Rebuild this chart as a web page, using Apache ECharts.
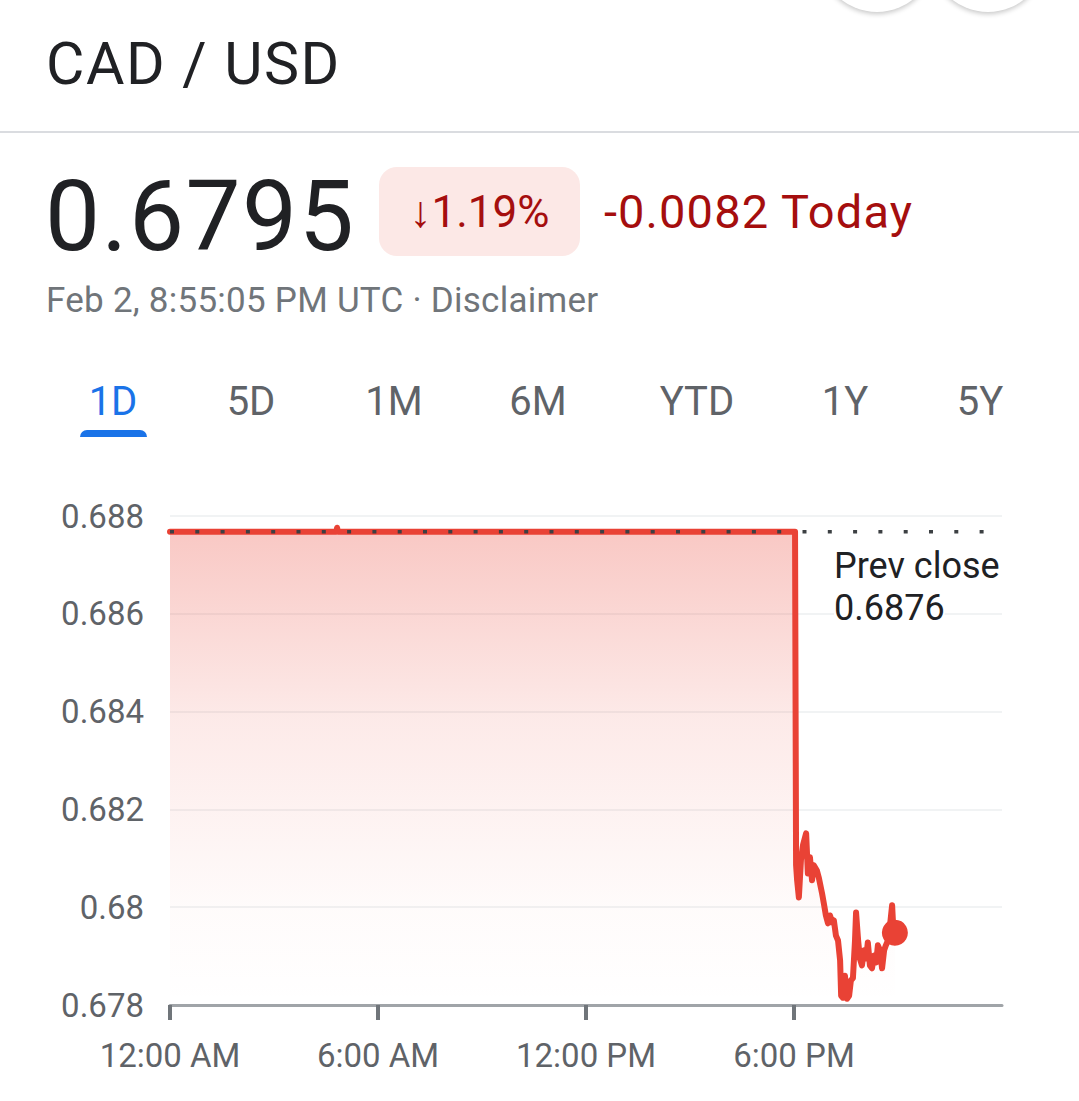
<!DOCTYPE html>
<html>
<head>
<meta charset="utf-8">
<script src="https://cdn.jsdelivr.net/npm/echarts@6/dist/echarts.min.js"></script>
<style>
  html, body { margin:0; padding:0; background:#fff; width:1079px; height:1101px; overflow:hidden; font-family: Roboto, "Noto Sans", sans-serif; }
  #chart { position:absolute; left:0; top:0; width:1079px; height:1101px; }
  .abs { position:absolute; line-height:1; white-space:nowrap; z-index:2; }
  .circ { position:absolute; width:116px; height:116px; border-radius:50%; background:#fff; box-shadow:0 2px 5px rgba(0,0,0,0.22); z-index:2; }
  .tab { position:absolute; top:382px; font-size:40px; line-height:1; color:#5f6368; transform:translateX(-50%); z-index:2; }
</style>
</head>
<body>
<div id="chart"></div>
<div class="circ" style="left:819px; top:-104px;"></div>
<div class="circ" style="left:930px; top:-104px;"></div>
<div class="abs" id="pair" style="left:46px; top:34px; font-size:59px; color:#202124; letter-spacing:1.5px;"></div>
<div class="abs" style="left:0; top:131px; width:1079px; height:2px; background:#dadce0;"></div>
<div class="abs" id="price" style="left:45px; top:168px; font-size:98px; color:#202124; letter-spacing:1.5px;"></div>
<div class="abs" id="badge" style="left:379px; top:167px; width:201px; height:89px; border-radius:18px; background:#fce8e6; color:#a50e0e; font-size:44px; display:flex; align-items:center; justify-content:center; line-height:1;"></div>
<div class="abs" id="change" style="left:604px; top:188px; font-size:47px; color:#a50e0e; letter-spacing:1.1px;"></div>
<div class="abs" id="stamp" style="left:46px; top:283px; font-size:35px; color:#70757a; letter-spacing:0.25px;"></div>
<div id="tabs"></div>
<div class="abs" style="left:80px; top:430px; width:67px; height:7px; border-radius:7px 7px 0 0; background:#1a73e8;"></div>
<script>
// ---- data ----
const pairName = 'CAD / USD';
const lastPrice = '0.6795';
const changePct = '\u21931.19%';
const changeAbs = '-0.0082 Today';
const stampText = 'Feb 2, 8:55:05 PM UTC \u00b7 Disclaimer';
const tabLabels = ['1D', '5D', '1M', '6M', 'YTD', '1Y', '5Y'];
const prevCloseText = '0.6876';
const prevCloseLevel = 0.68768;
const prevCloseSpan = [0, 23.5];

// time in hours (UTC) and rate
const times = [0, 4.80, 4.82, 4.84, 18.03, 18.06, 18.09, 18.14, 18.20, 18.26, 18.35, 18.40, 18.46, 18.52, 18.57, 18.66, 18.72, 18.81, 18.87, 18.92, 18.98, 19.04, 19.10, 19.15, 19.21, 19.27, 19.33, 19.36, 19.41, 19.47, 19.53, 19.59, 19.64, 19.70, 19.76, 19.79, 19.85, 19.90, 19.96, 20.02, 20.08, 20.13, 20.19, 20.25, 20.31, 20.37, 20.42, 20.48, 20.54, 20.60, 20.65, 20.71, 20.77, 20.83, 20.86, 20.91];
const rates = [0.68768, 0.68768, 0.68776, 0.68768, 0.68768, 0.68086, 0.68055, 0.68020, 0.68096, 0.68127, 0.68151, 0.68069, 0.68102, 0.68055, 0.68086, 0.68075, 0.68059, 0.68028, 0.68004, 0.67983, 0.67967, 0.67983, 0.67969, 0.67973, 0.67942, 0.67932, 0.67891, 0.67819, 0.67815, 0.67860, 0.67813, 0.67819, 0.67850, 0.67855, 0.67932, 0.67989, 0.67932, 0.67895, 0.67881, 0.67912, 0.67895, 0.67928, 0.67881, 0.67875, 0.67901, 0.67887, 0.67922, 0.67912, 0.67875, 0.67912, 0.67922, 0.67932, 0.67963, 0.68004, 0.67963, 0.67948];

const xTickValues = [0, 6, 12, 18];
const xTickLabels = ['12:00 AM', '6:00 AM', '12:00 PM', '6:00 PM'];
const yMin = 0.678, yMax = 0.688, yStep = 0.002;

// ---- header text ----
document.getElementById('pair').textContent = pairName;
document.getElementById('price').textContent = lastPrice;
document.getElementById('badge').textContent = changePct;
document.getElementById('change').textContent = changeAbs;
document.getElementById('stamp').textContent = stampText;
const tabX = [113, 251, 394, 538, 697, 845, 980];
const tabsEl = document.getElementById('tabs');
tabLabels.forEach((t, i) => {
  const d = document.createElement('div');
  d.className = 'tab';
  d.style.left = tabX[i] + 'px';
  if (i === 0) d.style.color = '#1a73e8';
  d.textContent = t;
  tabsEl.appendChild(d);
});

// ---- chart ----
const lineData = times.map((t, i) => [t, rates[i]]);
const last = lineData[lineData.length - 1];
const chart = echarts.init(document.getElementById('chart'), null, { renderer: 'svg' });
const labelFont = { fontFamily: 'Roboto', fontSize: 33, color: '#5f6368' };
chart.setOption({
  animation: false,
  backgroundColor: 'transparent',
  grid: { left: 170, right: 77, top: 516, bottom: 96, containLabel: false },
  xAxis: {
    type: 'value', min: 0, max: 24, interval: 6,
    axisLine: { show: true, lineStyle: { color: '#a0a4a8', width: 3 } },
    axisTick: { show: true, customValues: xTickValues, length: 15, lineStyle: { color: '#70757a', width: 4 } },
    axisLabel: Object.assign({ customValues: xTickValues, margin: 34,
      formatter: v => { const i = xTickValues.indexOf(v); return i >= 0 ? xTickLabels[i] : ''; } }, labelFont),
    splitLine: { show: false }
  },
  yAxis: {
    type: 'value', min: yMin, max: yMax, interval: yStep,
    axisLine: { show: false }, axisTick: { show: false },
    axisLabel: Object.assign({ margin: 26, formatter: v => String(+v.toFixed(3)) }, labelFont),
    splitLine: { show: true, lineStyle: { color: '#f1f3f4', width: 2 } }
  },
  series: [
    {
      type: 'line', data: lineData, showSymbol: false, symbol: 'none', z: 2,
      lineStyle: { color: '#e94235', width: 6, join: 'round', cap: 'round' },
      areaStyle: {
        color: { type: 'linear', x: 0, y: 0, x2: 0, y2: 1, colorStops: [
          { offset: 0, color: 'rgba(234,67,53,0.42)' },
          { offset: 0.4, color: 'rgba(234,67,53,0.16)' },
          { offset: 0.8, color: 'rgba(234,67,53,0.03)' },
          { offset: 1, color: 'rgba(234,67,53,0)' }
        ] }
      }
    },
    {
      type: 'line', data: prevCloseSpan.map(t => [t, prevCloseLevel]), showSymbol: false, symbol: 'none', z: 4,
      lineStyle: { color: '#3c4043', width: 3.5, type: [4, 21.3], cap: 'butt' }
    },
    {
      type: 'scatter', data: [last], symbolSize: 26, z: 5,
      itemStyle: { color: '#e94235', opacity: 1 }
    }
  ],
  graphic: [
    { type: 'text', z: 10, style: { text: 'Prev close', x: 834, y: 566, font: '36px Roboto', fill: '#202124', textVerticalAlign: 'middle', verticalAlign: 'middle', backgroundColor: '#fff', padding: [2, 0, 2, 0] } },
    { type: 'text', z: 10, style: { text: prevCloseText, x: 834, y: 608, font: '36px Roboto', fill: '#202124', textVerticalAlign: 'middle', verticalAlign: 'middle', backgroundColor: '#fff', padding: [2, 0, 2, 0] } }
  ]
});
</script>
</body>
</html>
